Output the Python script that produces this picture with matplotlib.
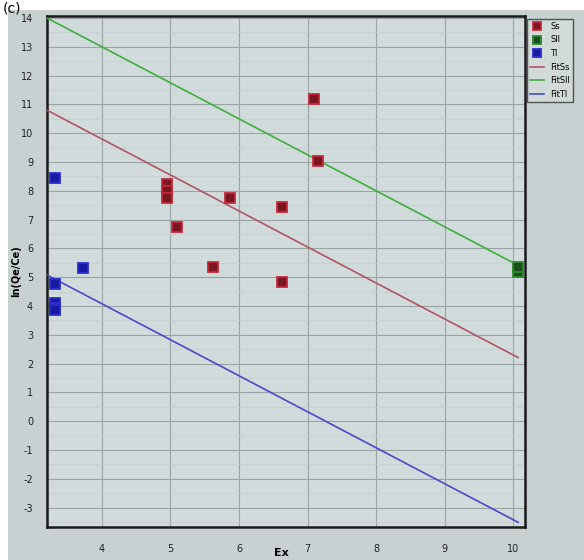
import numpy as np
import matplotlib.pyplot as plt
from matplotlib.patches import Rectangle

plt.rcParams["axes.unicode_minus"] = False

# measured points per sample group
ss_x = [7.1, 7.15, 4.95, 4.95, 4.95, 5.1, 5.87, 6.62, 5.62, 6.62]
ss_y = [11.2, 9.05, 8.25, 8.0, 7.75, 6.75, 7.75, 7.45, 5.35, 4.85]
sll_x = [10.07, 10.07]
sll_y = [5.2, 5.35]
tl_x = [3.31, 3.72, 3.31, 3.31, 3.31, 3.31]
tl_y = [8.45, 5.33, 4.75, 4.1, 3.95, 3.85]

# fitted lines y = a + b*x
fit_names = ["FitSs", "FitSll", "FitTl"]
fit_a = [14.8, 18.0, 9.08]
fit_b = [-1.25, -1.25, -1.25]
fit_xrange = [3.2, 10.07]

xticks = [4, 5, 6, 7, 8, 9, 10]
yticks = list(range(-3, 15))

fig = plt.figure(figsize=(5.84, 5.60), dpi=100, facecolor="white")
fig.patches.append(Rectangle((8 / 584, 0), 1, 1 - 10 / 560, transform=fig.transFigure,
                             facecolor="#c8d1d1", edgecolor="none", zorder=-10))
ax = fig.add_axes([47 / 584, 33 / 560, 478 / 584, 511 / 560])
ax.set_facecolor("#d2dbdb")

mk = dict(marker="s", linestyle="none", markersize=7.5, markeredgewidth=1.3)
ax.plot(ss_x, ss_y, color="#7a1622", markeredgecolor="#c8283a", label="Ss", zorder=5, **mk)
ax.plot(sll_x, sll_y, color="#1b4f1b", markeredgecolor="#2f8a2f", label="Sll", zorder=5, **mk)
ax.plot(tl_x, tl_y, color="#1a1aa0", markeredgecolor="#2c2cd0", label="Tl", zorder=5, **mk)

fit_colors = ["#b05565", "#3fae3f", "#4a4ac8"]
xx = np.array(fit_xrange)
for name, a, b, c in zip(fit_names, fit_a, fit_b, fit_colors):
    ax.plot(xx, a + b * xx, color=c, linewidth=1.2, label=name, zorder=4)

ax.set_xlim(3.2, 10.17)
ax.set_ylim(-3.67, 14.07)
ax.set_xticks(xticks)
ax.set_yticks(yticks)
ax.set_yticks(np.arange(-3.5, 14.0, 0.5), minor=True)
ax.grid(which="major", color="#9aa4a4", linewidth=0.8)
ax.grid(which="minor", axis="y", color="#c4cece", linewidth=0.5)
ax.set_axisbelow(True)
ax.tick_params(which="both", length=0)
ax.tick_params(axis="y", pad=10, labelsize=7, labelcolor="#222222")
ax.tick_params(axis="x", pad=12, labelsize=7, labelcolor="#222222")
for s in ax.spines.values():
    s.set_color("#1a1a1a")
    s.set_linewidth(1.8)

ax.set_ylabel("ln(Qe/Ce)", fontsize=7, fontweight="bold")
ax.yaxis.set_label_coords(-0.055, 0.5)
ax.set_xlabel("Ex", fontsize=8, fontweight="bold")
ax.xaxis.set_label_coords(0.49, -0.042)

leg = ax.legend(loc="upper left", bbox_to_anchor=(1.004, 0.995), fontsize=6,
                frameon=True, fancybox=False, edgecolor="#333333", facecolor="#d4dcdc",
                borderpad=0.4, labelspacing=0.55, handlelength=1.6, handletextpad=0.8,
                borderaxespad=0, markerscale=0.8)
leg.get_frame().set_linewidth(1.0)

fig.text(0.004, 1 - 1 / 560, "(c)", fontsize=10, va="top", ha="left")

fig.savefig("out.png", dpi=100, facecolor=fig.get_facecolor())
